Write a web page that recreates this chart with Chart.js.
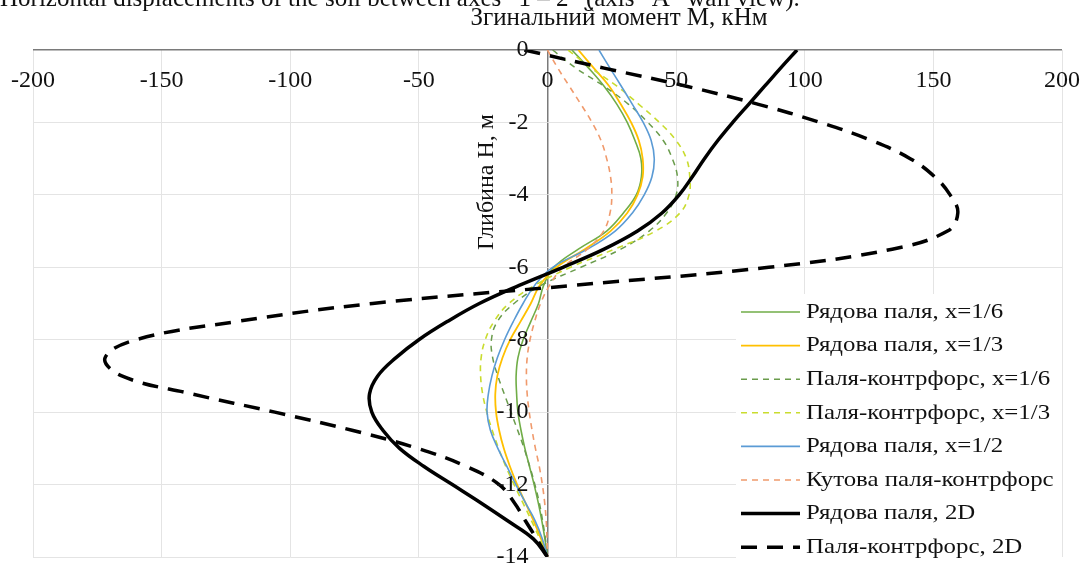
<!DOCTYPE html>
<html>
<head>
<meta charset="utf-8">
<title>Згинальний момент</title>
<script src="https://cdn.jsdelivr.net/npm/chart.js@4.4.0/dist/chart.umd.min.js"></script>
<style>
  html, body { margin: 0; padding: 0; background: #fff; overflow: hidden; }
  canvas { display: block; }
</style>
</head>
<body>
<canvas id="momentChart" width="1086" height="567"></canvas>
<script>
// Depth levels, m (shared by all series)
const depth = [0, -0.5, -1, -1.5, -2, -2.5, -3, -3.5, -4, -4.5, -5, -5.5, -6, -6.5, -7,
               -7.5, -8, -8.5, -9, -9.5, -10, -10.5, -11, -11.5, -12, -12.5, -13, -13.5, -14];

// Bending moment M, kNm
const row16 = [9.5, 16, 22, 27, 31, 34, 36.3, 36.5, 34.5, 29.5, 23, 12, 2.5, -1.5, -3.5,
               -6.5, -9.5, -11.5, -12.2, -12, -11.5, -10.3, -8.8, -7, -5.2, -3.6, -2.2, -1, 0];
const row13 = [12, 18, 24, 28.5, 32.5, 35.5, 37, 37, 35, 31, 24.5, 14.5, 3.5, -3, -6.5,
               -10.5, -14.5, -17.5, -19.5, -20.3, -20, -18.8, -17, -14.6, -11.8, -8.6, -5.4, -2.5, 0];
const buttress16 = [2, 11, 22, 31.5, 39, 45, 48.5, 50.5, 50, 46.3, 39.5, 28.5, 13, -2.5, -13,
                    -19.5, -21.8, -21.3, -19.3, -16.8, -14.2, -11.6, -9.1, -6.9, -4.9, -3.2, -1.9, -0.8, 0];
const buttress13 = [8, 17, 27, 35.5, 43.5, 50, 54, 55.3, 55, 51.5, 42, 26, 9, -5, -15,
                    -20.8, -24.2, -25.8, -26, -25.2, -23.6, -21.5, -19, -16.2, -13, -9.6, -6.2, -3, 0];
const row12 = [20, 24.3, 28.7, 33, 37.2, 40.3, 41.5, 40.6, 37.6, 33, 26.3, 15.5, 2, -5, -9.5,
               -13.3, -16.7, -19.5, -21.6, -23, -23.5, -22.2, -19.3, -15.8, -12.3, -8.6, -4.8, -2, 0];
const cornerButtress = [0, 4, 8.5, 13, 17.3, 20.8, 23, 24.5, 25, 24.3, 21.8, 15.5, 6, 0.8, -2.7,
                        -5, -6.8, -7.9, -8.2, -7.9, -7.1, -6, -4.7, -3.2, -2, -1.1, -0.5, -0.2, 0];
const row2D = [97, 90.6, 84.4, 78.2, 72, 66.2, 61, 56.3, 51.2, 44.5, 35, 22, 6, -11, -26.5,
               -39, -50, -59, -66, -69.2, -68.3, -64, -57.5, -48, -37, -26, -15.5, -5.5, 0];
const buttress2D = [-9, 22, 54, 82, 106, 126, 141, 150.5, 156.5, 159.5, 155.5, 134, 86, 10, -68,
                    -121, -160, -172, -165.5, -138, -106, -76, -50.5, -31.5, -18.8, -12.9, -8.6, -4.2, 0];

const seriesNames = [
    'Рядова паля, x=1/6',
    'Рядова паля, x=1/3',
    'Паля-контрфорс, x=1/6',
    'Паля-контрфорс, x=1/3',
    'Рядова паля, x=1/2',
    'Кутова паля-контрфорс',
    'Рядова паля, 2D',
    'Паля-контрфорс, 2D'
];
const seriesValues = [row16, row13, buttress16, buttress13, row12, cornerButtress, row2D, buttress2D];

const xTicks = [-200, -150, -100, -50, 0, 50, 100, 150, 200];
const yTicks = [0, -2, -4, -6, -8, -10, -12, -14];

const xTitle = 'Згинальний момент М, кНм';
const yTitle = 'Глибина Н, м';
const caption = 'Horizontal displacements of the soil between axes “1 – 2” (axis “A” wall view).';

// line styles for each series
const seriesStyles = [
    { color: '#70AD47', width: 1.6, dash: [] },
    { color: '#FFC000', width: 1.8, dash: [] },
    { color: '#6A9C4C', width: 1.5, dash: [6, 5] },
    { color: '#C9DC2E', width: 1.6, dash: [6, 5] },
    { color: '#5B9BD5', width: 1.6, dash: [] },
    { color: '#F09A6C', width: 1.6, dash: [6, 5] },
    { color: '#000000', width: 3.5, dash: [] },
    { color: '#000000', width: 3.5, dash: [16, 10] }
];

const serif = '"Liberation Serif", "Times New Roman", serif';

function buildDatasets() {
    return seriesNames.map((name, i) => ({
        label: name,
        data: depth.map((h, k) => ({ x: seriesValues[i][k], y: h })),
        showLine: true,
        borderColor: seriesStyles[i].color,
        borderWidth: seriesStyles[i].width,
        borderDash: seriesStyles[i].dash,
        pointRadius: 0,
        tension: 0.4,
        fill: false,
        order: seriesNames.length - i
    }));
}

// text drawn with a slight horizontal stretch, like the source picture
function stretchedText(ctx, text, x, y, sx) {
    ctx.save();
    ctx.translate(x, y);
    ctx.scale(sx, 1);
    ctx.fillText(text, 0, 0);
    ctx.restore();
}

// Draw tick labels, titles and the legend the way the original sheet does
const overlayPlugin = {
    id: 'overlay',
    afterDatasetsDraw(chart) {
        const ctx = chart.ctx;
        const xs = chart.scales.x;
        const ys = chart.scales.y;
        ctx.save();
        ctx.fillStyle = '#111';
        ctx.font = '24px ' + serif;

        // x tick labels sit just under the top axis line
        ctx.textAlign = 'center';
        ctx.textBaseline = 'middle';
        xTicks.forEach(v => {
            ctx.fillText(String(v), xs.getPixelForValue(v), ys.getPixelForValue(0) + 31);
        });

        // y tick labels to the left of the zero line
        ctx.textAlign = 'right';
        yTicks.forEach(v => {
            ctx.fillText(String(v), xs.getPixelForValue(0) - 19, ys.getPixelForValue(v));
        });

        // axis titles
        ctx.font = '25px ' + serif;
        ctx.textAlign = 'center';
        ctx.textBaseline = 'alphabetic';
        ctx.fillText(xTitle, 619, 25);

        ctx.save();
        ctx.translate(487, 182);
        ctx.rotate(-Math.PI / 2);
        ctx.font = '24px ' + serif;
        ctx.textBaseline = 'middle';
        ctx.fillText(yTitle, 0, 0);
        ctx.restore();

        // caption of the figure above, cut by the top edge
        ctx.font = '25px ' + serif;
        ctx.textAlign = 'left';
        ctx.textBaseline = 'alphabetic';
        ctx.fillText(caption, 0, 6);

        // legend
        ctx.fillStyle = '#fff';
        ctx.fillRect(736, 294, 326, 273);
        ctx.font = '22px ' + serif;
        ctx.textBaseline = 'middle';
        chart.data.datasets.forEach((ds, i) => {
            const rowY = 312 + i * 33.6;
            ctx.beginPath();
            ctx.strokeStyle = ds.borderColor;
            ctx.lineWidth = ds.borderWidth;
            ctx.setLineDash(ds.borderDash);
            ctx.moveTo(741, rowY);
            ctx.lineTo(800, rowY);
            ctx.stroke();
            ctx.setLineDash([]);
            ctx.fillStyle = '#111';
            stretchedText(ctx, ds.label, 806, rowY, 1.13);
        });
        ctx.restore();
    }
};

function gridColor(ctx) {
    return ctx.tick && ctx.tick.value === 0 ? '#7a7a7a' : '#e4e4e4';
}
function gridWidth(ctx) {
    return ctx.tick && ctx.tick.value === 0 ? 1.5 : 1;
}

function loadChart() {
    const ctx = document.getElementById('momentChart').getContext('2d');
    new Chart(ctx, {
        type: 'scatter',
        data: { datasets: buildDatasets() },
        options: {
            responsive: false,
            animation: false,
            devicePixelRatio: 1,
            layout: { padding: { left: 33, right: 24, top: 50, bottom: 10 } },
            plugins: {
                legend: { display: false },
                tooltip: { enabled: false }
            },
            scales: {
                x: {
                    type: 'linear',
                    min: -200,
                    max: 200,
                    ticks: { display: false, stepSize: 50 },
                    grid: { color: gridColor, lineWidth: gridWidth, drawTicks: false },
                    border: { display: false }
                },
                y: {
                    type: 'linear',
                    min: -14,
                    max: 0,
                    ticks: { display: false, stepSize: 2 },
                    grid: { color: gridColor, lineWidth: gridWidth, drawTicks: false },
                    border: { display: false }
                }
            }
        },
        plugins: [overlayPlugin]
    });
}

window.onload = loadChart;
</script>
</body>
</html>
